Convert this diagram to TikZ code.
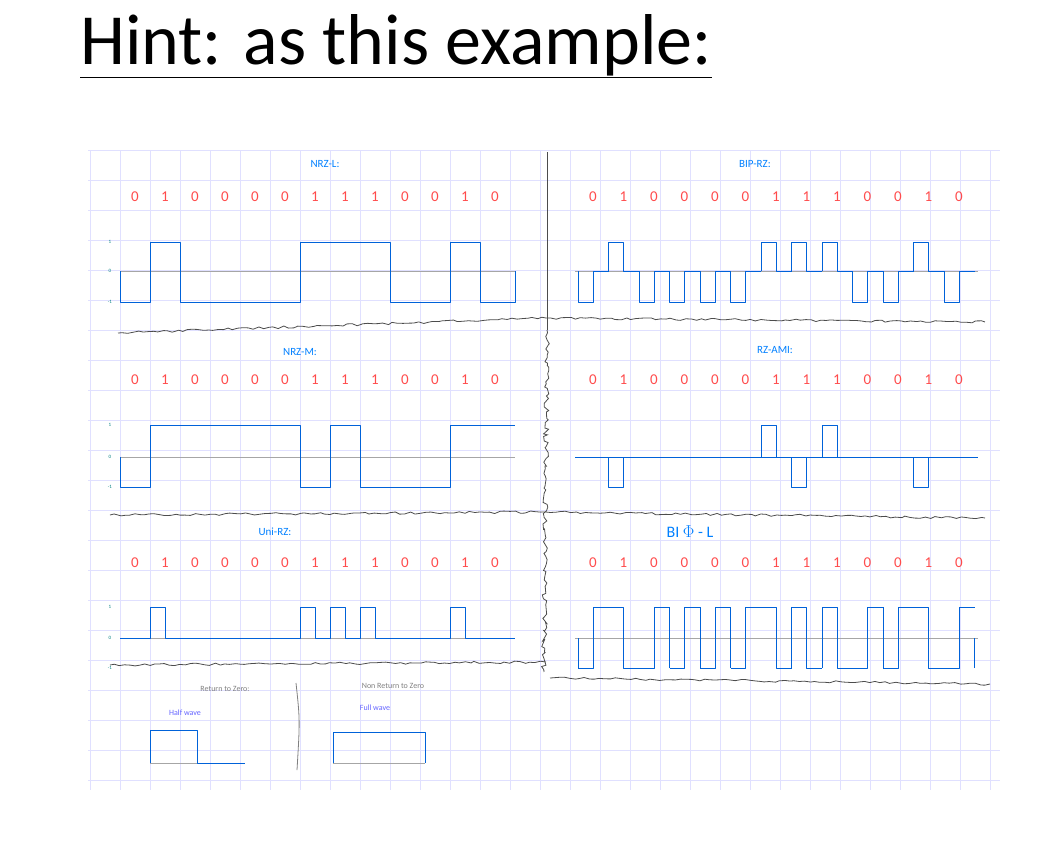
\documentclass[tikz,border=0pt]{standalone}
\usepackage{fontspec}
\setmainfont{Carlito}
\usetikzlibrary{decorations.pathmorphing}
\begin{document}
\begin{tikzpicture}[x=1pt,y=-1pt,
  grid/.style={draw=blue!12,line width=0.8pt},
  wave/.style={draw=blue!55!cyan!85!black,line width=1pt,line join=round},
  zline/.style={draw=gray!70,line width=0.8pt},
  sep/.style={draw=gray!60!black,line width=0.8pt,decorate,decoration={random steps,segment length=5pt,amplitude=1.2pt}},
  lbl/.style={text=blue!50!cyan,font=\fontsize{11}{12}\selectfont},
  bits/.style={text=red!70,font=\fontsize{15}{16}\selectfont},
  axl/.style={text=teal,font=\fontsize{5}{6}\selectfont},
  note/.style={text=gray,font=\fontsize{8}{9}\selectfont}]
\pgfmathsetseed{7}
\useasboundingbox (0,0) rectangle (1048,849);
\fill[white] (0,0) rectangle (1048,849);
\node[anchor=base west,inner sep=0pt,font=\fontsize{72}{80}\selectfont] (title) at (80,64) {\underline{Hint: as this example:}};
% grid
\foreach \x in {90,120,...,990} \draw[grid] (\x,150) -- (\x,790);
\foreach \y in {150,180,...,780} \draw[grid] (88,\y) -- (1000,\y);
% dividers
\draw[gray!60!black,line width=0.8pt] (547,152) -- (547,330);
\draw[sep,decoration={amplitude=2.5pt,segment length=3pt}] (547,330) -- (544,672);
\draw[sep] (118,333) -- (546,318) -- (985,322);
\draw[sep] (110,515) -- (546,512) -- (985,518);
\draw[sep] (110,665) -- (546,662);
\draw[sep] (550,678) -- (990,684);
% titles
\node[lbl] (t1) at (325,164) {NRZ-L:};
\node[lbl] (t2) at (755,164) {BIP-RZ:};
\node[lbl] (t3) at (300,352) {NRZ-M:};
\node[lbl] (t4) at (775,350) {RZ-AMI:};
\node[lbl] (t5) at (275,532) {Uni-RZ:};
\node[lbl,font=\fontsize{16}{17}\selectfont] (t6) at (690,532) {BI $\Phi$ - L};
% bits
\foreach \r/\y in {1/197,2/380,3/563}{
  \foreach \b [count=\i from 0] in {0,1,0,0,0,0,1,1,1,0,0,1,0}{
    \node[bits] (bl\r-\i) at (135+30*\i,\y) {\b};
    \node[bits] (br\r-\i) at (593+30.5*\i,\y) {\b};
  }
}
% axis labels
\foreach \y/\t in {242/1,271/0,302/-1,425/1,457/0,487/-1,607/1,638/0,668/-1}
  \node[axl] (ax\y) at (110,\y) {\t};
% zero lines
\foreach \y in {271,457,638} {\draw[zline] (120,\y) -- (515,\y); \draw[zline] (575,\y) -- (978,\y);}
% NRZ-L
\draw[wave] (120,271)--(120,302)--(150,302)--(150,242)--(180,242)--(180,302)--(300,302)--(300,242)--(390,242)--(390,302)--(450,302)--(450,242)--(480,242)--(480,302)--(515,302)--(515,271);
% NRZ-M
\draw[wave] (120,457)--(120,487)--(150,487)--(150,425)--(300,425)--(300,487)--(330,487)--(330,425)--(360,425)--(360,487)--(450,487)--(450,425)--(515,425);
% Uni-RZ
\draw[wave] (120,638)--(150,638)--(150,607)--(165,607)--(165,638)--(300,638)--(300,607)--(315,607)--(315,638)--(330,638)--(330,607)--(345,607)--(345,638)--(360,638)--(360,607)--(375,607)--(375,638)--(450,638)--(450,607)--(465,607)--(465,638)--(515,638);
% BIP-RZ
\foreach \b [count=\i from 0] in {0,1,0,0,0,0,1,1,1,0,0,1,0}{
  \pgfmathsetmacro\xa{578+30.5*\i}\pgfmathsetmacro\xm{\xa+15.25}\pgfmathsetmacro\xb{\xa+30.5}
  \pgfmathsetmacro\lv{\b==1?242:302}
  \draw[wave] (\xa,271)--(\xa,\lv)--(\xm,\lv)--(\xm,271)--(\xb,271);
}
% RZ-AMI
\draw[wave] (575,457) -- (978,457);
\foreach \i/\lv in {1/487,6/425,7/487,8/425,11/487}{
  \pgfmathsetmacro\xa{578+30.5*\i}\pgfmathsetmacro\xm{\xa+15.25}
  \draw[wave] (\xa,457)--(\xa,\lv)--(\xm,\lv)--(\xm,457);
}
% BI-Phi-L
\draw[wave] (578,638)--(578,668);
\foreach \b [count=\i from 0] in {0,1,0,0,0,0,1,1,1,0,0,1,0}{
  \pgfmathsetmacro\xa{578+30.5*\i}\pgfmathsetmacro\xm{\xa+15.25}\pgfmathsetmacro\xb{\xa+30.5}
  \pgfmathsetmacro\fa{\b==1?607:668}\pgfmathsetmacro\fb{\b==1?668:607}
  \draw[wave] (\xa,\fa)--(\xm,\fa)--(\xm,\fb)--(\xb,\fb);
}
\foreach \i in {3,4,5,7,8,10}{\pgfmathsetmacro\xa{578+30.5*\i}\draw[wave] (\xa,607)--(\xa,668);}
\draw[wave] (974.5,668)--(974.5,638);
% bottom notes
\node[note] (n1) at (225,689) {Return to Zero:};
\node[note] (n2) at (393,686) {Non Return to Zero};
\node[note,text=blue!60] (n3) at (185,713) {Half wave};
\node[note,text=blue!60] (n4) at (375,708) {Full wave};
\draw[gray,line width=0.8pt] (296,683) .. controls (300,720) .. (297,770);
\draw[zline] (150,763) -- (245,763);
\draw[wave] (150,763)--(150,730)--(197,730)--(197,763)--(245,763);
\draw[zline] (333,763) -- (425,763);
\draw[wave] (333,763)--(333,732)--(425,732)--(425,763);
\end{tikzpicture}
\end{document}
